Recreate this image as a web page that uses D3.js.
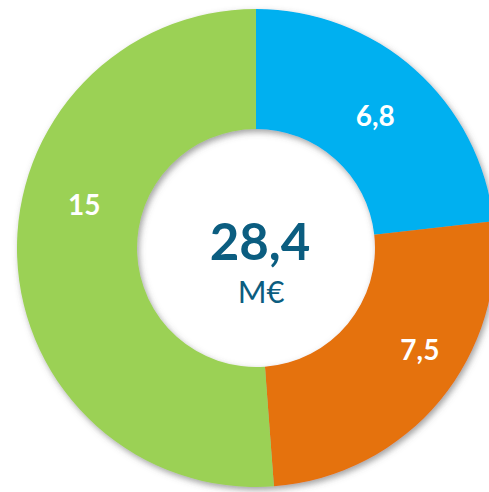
<!DOCTYPE html>
<html>
<head>
<meta charset="utf-8">
<script src="https://cdn.jsdelivr.net/npm/d3@7"></script>
<style>
  html, body { margin: 0; padding: 0; background: #fff; overflow: hidden; }
  svg { display: block; }
</style>
</head>
<body>
<script>
// Data
const categories = ["A", "B", "C"];
const values = [6.8, 7.5, 15];
const valueLabels = ["6,8", "7,5", "15"];
const colors = ["#00b0f0", "#e5720e", "#9bd155"];
const totalLabel = "28,4";
const unitLabel = "M€";
// label nudges from arc centroid (px)
const labelNudge = [[0, 1], [26, -12], [7, -50]];

const W = 489, H = 492;
const cx = 256, cy = 248;
const rOuter = 239, rInner = 119;

const svg = d3.select("body").append("svg").attr("width", W).attr("height", H);

const defs = svg.append("defs");
const f = defs.append("filter").attr("id", "sh")
  .attr("x", "-10%").attr("y", "-10%").attr("width", "120%").attr("height", "120%");
f.append("feDropShadow").attr("dx", 2).attr("dy", 3).attr("stdDeviation", 3)
  .attr("flood-color", "#555").attr("flood-opacity", 0.55);

const g = svg.append("g").attr("transform", `translate(${cx},${cy})`);

const pie = d3.pie().sort(null).value(d => d);
const arcs = pie(values);
const arc = d3.arc().innerRadius(rInner).outerRadius(rOuter);
const labelArc = d3.arc().innerRadius(179).outerRadius(179);

g.append("g").attr("filter", "url(#sh)")
  .selectAll("path").data(arcs).join("path")
  .attr("d", arc)
  .attr("fill", (d, i) => colors[i]);

g.selectAll("text.lbl").data(arcs).join("text")
  .attr("class", "lbl")
  .attr("x", (d, i) => labelArc.centroid(d)[0] + labelNudge[i][0])
  .attr("y", (d, i) => labelArc.centroid(d)[1] + labelNudge[i][1] + 10)
  .attr("text-anchor", "middle")
  .attr("font-family", "Lato, 'Open Sans', sans-serif")
  .attr("font-weight", "bold")
  .attr("font-size", 28)
  .attr("fill", "#fff")
  .text((d, i) => valueLabels[i]);

g.append("text")
  .attr("x", 4).attr("y", 12)
  .attr("text-anchor", "middle")
  .attr("font-family", "Lato, 'Open Sans', sans-serif")
  .attr("font-weight", "bold")
  .attr("font-size", 51)
  .attr("fill", "#0b5d80")
  .text(totalLabel);

g.append("text")
  .attr("x", 5).attr("y", 55)
  .attr("text-anchor", "middle")
  .attr("font-family", "Lato, 'Open Sans', sans-serif")
  .attr("font-size", 31)
  .attr("fill", "#0b5d80")
  .text(unitLabel);
</script>
</body>
</html>
